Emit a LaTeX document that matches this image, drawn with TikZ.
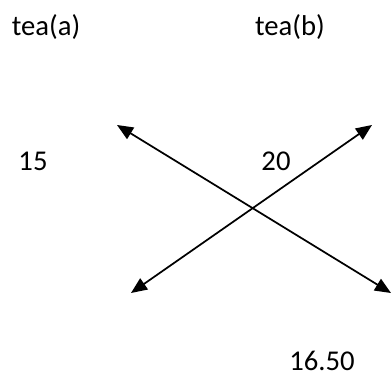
\documentclass[tikz,border=0pt]{standalone}
\usepackage{fontspec}
\setmainfont{Carlito}
\usepackage{tkz-euclide}
\usetikzlibrary{arrows.meta}

\begin{document}
\begin{tikzpicture}[x=7.5pt, y=7.5pt]
    \useasboundingbox (0,0) rectangle (39.2,37.7);
    \tkzDefPoints{11.7/25.2/A1, 39.1/8.4/A2}
    \tkzDefPoints{37.2/25.2/B1, 13.1/8.4/B2}
    \tkzDefPoints{4.6/35.0/T1, 29.0/35.0/T2}
    \tkzDefPoints{3.3/21.6/P1, 27.6/21.6/P2, 32.2/1.6/P3}

    % crossing arrows
    \tkzDrawSegments[{Triangle[length=12pt,width=10pt]}-{Triangle[length=12pt,width=10pt]},
        line width=1.3pt, black](A1,A2 B1,B2)

    \tkzLabelPoint[anchor=center, font=\fontsize{21.5}{26}\selectfont](T1){tea(a)}
    \tkzLabelPoint[anchor=center, font=\fontsize{21.5}{26}\selectfont](T2){tea(b)}
    \tkzLabelPoint[anchor=center, font=\fontsize{21.5}{26}\selectfont](P1){15}
    \tkzLabelPoint[anchor=center, font=\fontsize{21.5}{26}\selectfont](P2){20}
    \tkzLabelPoint[anchor=center, font=\fontsize{21.5}{26}\selectfont](P3){16.50}
\end{tikzpicture}
\end{document}
